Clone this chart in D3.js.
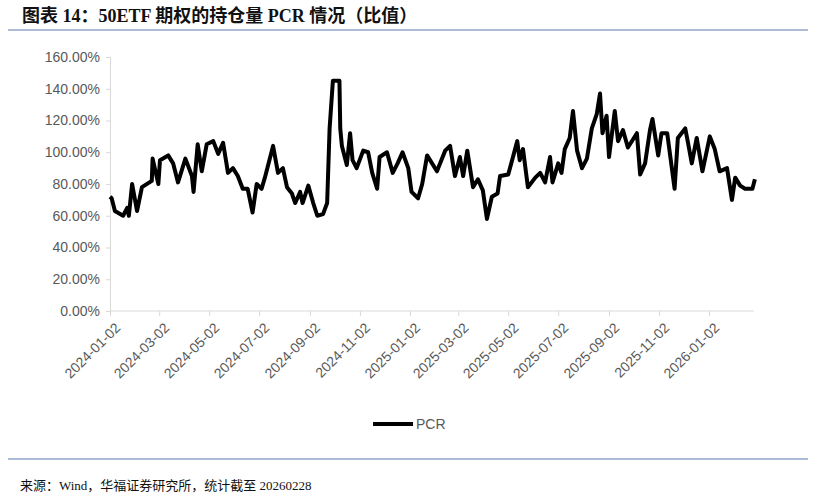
<!DOCTYPE html>
<html>
<head>
<meta charset="utf-8">
<script src="https://cdn.jsdelivr.net/npm/d3@7"></script>
<style>
  body { margin: 0; background: #fff; }
  svg { display: block; }
</style>
</head>
<body>
<svg id="chart" width="835" height="500"></svg>
<script>
// PCR (%), by date
var dates = ["2024-01-02","2024-01-04","2024-01-08","2024-01-18","2024-01-23","2024-01-25","2024-01-29","2024-02-04","2024-02-10","2024-02-22",
  "2024-02-23","2024-03-01","2024-03-03","2024-03-13","2024-03-19","2024-03-25","2024-04-03","2024-04-11","2024-04-13","2024-04-18",
  "2024-04-23","2024-04-29","2024-05-07","2024-05-13","2024-05-19","2024-05-25","2024-05-31","2024-06-06","2024-06-12","2024-06-18",
  "2024-06-24","2024-06-29","2024-07-05","2024-07-09","2024-07-19","2024-07-25","2024-07-31","2024-08-05","2024-08-11","2024-08-15",
  "2024-08-21","2024-08-24","2024-08-31","2024-09-06","2024-09-11","2024-09-18","2024-09-23","2024-09-26","2024-09-30","2024-10-08",
  "2024-10-09","2024-10-11","2024-10-17","2024-10-21","2024-10-24","2024-10-29","2024-11-06","2024-11-12","2024-11-17","2024-11-23",
  "2024-11-26","2024-12-05","2024-12-12","2024-12-18","2024-12-24","2024-12-31","2025-01-04","2025-01-12","2025-01-17","2025-01-23",
  "2025-02-04","2025-02-14","2025-02-20","2025-02-26","2025-03-04","2025-03-08","2025-03-13","2025-03-20","2025-03-26","2025-04-01",
  "2025-04-06","2025-04-12","2025-04-19","2025-04-22","2025-05-02","2025-05-13","2025-05-16","2025-05-20","2025-05-26","2025-06-04",
  "2025-06-10","2025-06-16","2025-06-22","2025-06-25","2025-07-02","2025-07-06","2025-07-10","2025-07-16","2025-07-20","2025-07-25",
  "2025-07-31","2025-08-06","2025-08-12","2025-08-18","2025-08-22","2025-08-25","2025-08-30","2025-09-02","2025-09-09","2025-09-13",
  "2025-09-19","2025-09-25","2025-10-06","2025-10-10","2025-10-16","2025-10-22","2025-10-25","2025-11-01","2025-11-05","2025-11-12",
  "2025-11-21","2025-11-25","2025-12-04","2025-12-07","2025-12-12","2025-12-18","2025-12-25","2026-01-03","2026-01-09","2026-01-15",
  "2026-01-24","2026-01-30","2026-02-03","2026-02-09","2026-02-15","2026-02-24","2026-02-27"];
var pcr = [72,71,63,60,65,60,80,63,78,82,
  96,80,95,98,93,81,96,85,75,105,
  88,105,107,99,106,87,90,85,77,77,
  62,80,77,84,104,87,90,78,74,68,
  75,68,79,68,60,61,68,115,145,145,
  115,104,92,112,95,90,101,100,87,77,
  97,100,87,93,100,90,75,71,80,98,
  88,101,104,85,97,85,101,78,83,76,
  58,72,74,85,86,107,95,102,78,84,
  87,81,97,81,93,87,102,109,126,101,
  90,96,115,124,137,112,123,97,126,107,
  114,103,112,86,93,114,121,98,112,112,
  77,109,115,107,93,109,88,110,102,88,
  90,70,84,79,77,77,83];
var yTicks = [0, 20, 40, 60, 80, 100, 120, 140, 160];
var xTicks = ["2024-01-02","2024-03-02","2024-05-02","2024-07-02","2024-09-02","2024-11-02","2025-01-02",
  "2025-03-02","2025-05-02","2025-07-02","2025-09-02","2025-11-02","2026-01-02"];

var parse = d3.timeParse("%Y-%m-%d");
var points = dates.map(function (d, i) { return { date: parse(d), value: pcr[i] }; });

var svg = d3.select("#chart");
var serif = "'Liberation Serif','Noto Sans CJK SC',serif";
var sans = "'Liberation Sans Narrow','Liberation Sans','Noto Sans',sans-serif";

// Title and rules
svg.append("text").attr("x", 22).attr("y", 22)
    .attr("font-family", serif).attr("font-weight", "bold").attr("font-size", 18)
    .attr("fill", "#111").text("图表 14：50ETF 期权的持仓量 PCR 情况（比值）");
svg.append("line").attr("x1", 8).attr("x2", 808).attr("y1", 30).attr("y2", 30)
    .attr("stroke", "#5a78b0").attr("stroke-width", 1.2);
svg.append("line").attr("x1", 8).attr("x2", 808).attr("y1", 459).attr("y2", 459)
    .attr("stroke", "#5a78b0").attr("stroke-width", 1.2);
svg.append("text").attr("x", 20).attr("y", 490)
    .attr("font-family", serif).attr("font-size", 13)
    .attr("fill", "#111").text("来源：Wind，华福证券研究所，统计截至 20260228");

var x = d3.scaleTime()
    .domain([parse("2024-01-02"), parse("2026-01-02")])
    .range([110, 709]);
var y = d3.scaleLinear().domain([0, 160]).range([311, 57]);

// y axis
var yAxis = svg.append("g").attr("transform", "translate(110,0)")
    .call(d3.axisLeft(y).tickValues(yTicks).tickSize(4).tickPadding(6)
        .tickFormat(function (d) { return d.toFixed(2) + "%"; }));
yAxis.select(".domain").attr("stroke", "#d9d9d9");
yAxis.selectAll(".tick line").attr("stroke", "#d9d9d9");
yAxis.selectAll("text").attr("font-family", sans).attr("font-size", 14).attr("fill", "#595959");

// x axis
var xAxis = svg.append("g").attr("transform", "translate(0,311)")
    .call(d3.axisBottom(x).tickValues(xTicks.map(parse)).tickSize(5).tickSizeOuter(0)
        .tickFormat(d3.timeFormat("%Y-%m-%d")));
xAxis.select(".domain").attr("d", "M110,0H754").attr("stroke", "#d9d9d9");
xAxis.selectAll(".tick line").attr("stroke", "#d9d9d9");
xAxis.selectAll("text")
    .attr("font-family", sans).attr("font-size", 14).attr("fill", "#595959")
    .attr("text-anchor", "end").attr("dy", 0)
    .attr("transform", "translate(5,12) rotate(-45)");

// PCR line
var line = d3.line()
    .x(function (d) { return x(d.date); })
    .y(function (d) { return y(d.value); });
svg.append("path").datum(points)
    .attr("d", line).attr("fill", "none")
    .attr("stroke", "#000").attr("stroke-width", 4)
    .attr("stroke-linejoin", "round");

// Legend
svg.append("line").attr("x1", 373).attr("x2", 413).attr("y1", 424).attr("y2", 424)
    .attr("stroke", "#000").attr("stroke-width", 4);
svg.append("text").attr("x", 416).attr("y", 429)
    .attr("font-family", sans).attr("font-size", 14).attr("fill", "#595959").text("PCR");
</script>
</body>
</html>
